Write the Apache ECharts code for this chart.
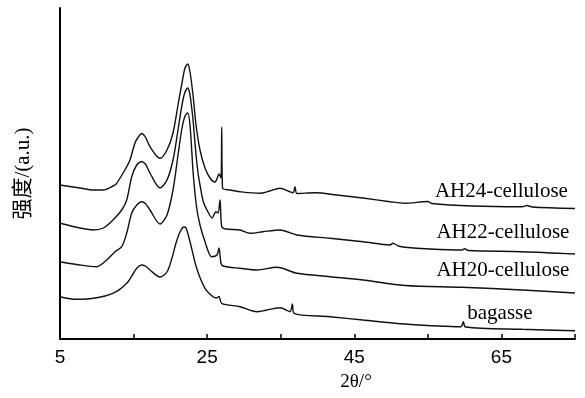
<!DOCTYPE html>
<html>
<head>
<meta charset="utf-8">
<script src="https://cdn.jsdelivr.net/npm/echarts@6/dist/echarts.min.js"></script>
<style>html,body{margin:0;padding:0;background:#fff}#c{width:585px;height:398px}</style>
</head>
<body>
<div id="c"></div>
<script>
// 2θ (deg) vs intensity (a.u., offset as plotted)
const seriesNames = ['AH24-cellulose', 'AH22-cellulose', 'AH20-cellulose', 'bagasse'];
const xTicks = [5, 25, 45, 65];

const ah24 = [[5.0,154],[7.72,151],[9.53,149],[10.89,149],[12.2,153],[12.71,155.7],[14.07,172.3],[14.51,179],[15.19,196],[15.6,201.5],[16.1,205.5],[16.6,202],[17.23,192.3],[18.59,180.7],[19.54,189],[20.36,206],[21.04,234],[21.58,256],[21.99,271],[22.36,275],[22.67,267],[23.08,244],[23.49,214],[24.03,189],[24.71,171],[25.39,161],[26.07,157],[26.48,163],[26.61,165],[26.88,161],[26.98,212],[27.09,151],[28.11,149],[29.47,147.3],[32.18,145.7],[33.5,148],[34.9,150.7],[36.67,146.3],[36.94,152.3],[37.21,145.5],[39.66,146.3],[42.65,144],[46.18,141],[49.86,137.3],[51.89,135.7],[55.02,137.5],[55.5,135.5],[61.0,133],[67.8,132.3],[68.5,133.5],[69.2,132],[75,130.5]];

const ah22 = [[5.0,115.7],[7.72,111],[9.53,109],[10.89,111],[12.2,119],[13.39,129],[14.07,139],[14.75,162.3],[15.43,174],[16.1,177.3],[16.6,175],[17.23,166],[18.59,151],[19.54,159],[20.36,179],[21.04,209],[21.58,234],[21.99,247],[22.36,251],[22.67,244],[23.08,219],[23.49,184],[23.8,164],[24.03,154],[24.48,137.3],[25.12,127],[25.66,121],[26.2,127.3],[26.48,126],[26.75,139],[26.98,112.3],[27.5,110],[29.47,109],[30.83,105.7],[32.59,107.3],[34.9,109],[37.21,104],[41.7,100.7],[46.18,97.3],[49.86,94],[50.26,95.7],[51.0,93],[51.89,91.7],[55.29,90],[59.64,89],[60.0,90.3],[60.5,88.5],[67.8,87.3],[75,85]];

const ah20 = [[5.0,77.3],[7.72,74],[9.99,72.3],[11.35,79],[12.48,87.3],[13.39,92.3],[14.07,106],[14.75,126],[15.43,134],[16.1,137.3],[16.6,135.5],[17.23,129],[18.59,115],[19.54,124],[20.36,149],[21.04,184],[21.58,211],[21.99,223],[22.36,226],[22.67,214],[23.12,164],[23.58,131],[24.03,114],[24.71,97.3],[25.62,82.3],[26.34,84],[26.61,91],[26.88,76],[27.16,73],[29.47,70.7],[31.78,69],[34.5,71.7],[37.21,65.7],[41.7,62.3],[46.18,59],[51.89,53.5],[59.64,51.7],[67.8,49],[75,46]];

const bagasse = [[5.0,42.3],[7.27,39.7],[9.53,40.7],[12.2,45.7],[14.07,55.7],[15.43,70.7],[16.1,74],[16.6,73],[17.23,69],[18.59,62],[19.54,67],[20.22,81],[20.77,96],[21.31,107],[21.85,112],[22.13,111],[22.67,97.3],[23.58,70.7],[24.71,50.7],[25.8,42.3],[26.3,41],[26.6,42.5],[26.98,35.7],[29.47,32.3],[31.78,27.3],[34.9,31.3],[36.26,27.3],[36.58,35],[36.81,25.7],[41.7,22.3],[46.18,19],[51.89,15],[59.5,12.3],[59.82,17.3],[60.1,12],[67.8,9.7],[75,8.3]];

const allData = [ah24, ah22, ah20, bagasse];
// label anchor (x in 2θ, y in a.u.)
const labelPos = [[65.0, 147.3], [65.2, 106.3], [65.2, 68.3], [64.8, 25.7]];

const chart = echarts.init(document.getElementById('c'), null, {renderer: 'canvas'});
const option = {
  animation: false,
  backgroundColor: '#fff',
  grid: {left: 60, right: 10, top: 8, bottom: 59},
  xAxis: {
    type: 'value', min: 5, max: 75, interval: 10,
    name: '2θ/°', nameLocation: 'middle', nameGap: 34,
    nameTextStyle: {fontFamily: 'Liberation Serif', fontSize: 19, color: '#000', padding: [0, 0, 0, 77]},
    axisLine: {show: true, lineStyle: {color: '#000', width: 2}},
    axisTick: {show: true, inside: true, length: 5, lineStyle: {color: '#000', width: 1.5}},
    axisLabel: {
      margin: 9, fontFamily: 'Liberation Sans', fontSize: 19, color: '#000',
      formatter: v => xTicks.indexOf(v) >= 0 ? String(v) : ''
    },
    splitLine: {show: false}
  },
  yAxis: {
    type: 'value', min: 0, max: 331,
    name: '强度/(a.u.)', nameLocation: 'middle', nameGap: 26, nameRotate: 90,
    nameTextStyle: {fontFamily: 'Liberation Serif, Noto Sans CJK SC', fontSize: 21, color: '#000'},
    axisLine: {show: true, lineStyle: {color: '#000', width: 2}},
    axisTick: {show: false},
    axisLabel: {show: false},
    splitLine: {show: false}
  },
  series: allData.map((d, i) => ({
    name: seriesNames[i], type: 'line', data: d,
    showSymbol: false, smooth: 0.3,
    lineStyle: {color: '#111', width: 1.4},
    markPoint: {
      symbol: 'rect', symbolSize: 1, itemStyle: {color: 'transparent'},
      label: {show: true, position: 'inside', formatter: seriesNames[i],
        fontFamily: 'Liberation Serif', fontSize: 21, color: '#000'},
      data: [{coord: labelPos[i]}]
    }
  }))
};
chart.setOption(option);
</script>
</body>
</html>
